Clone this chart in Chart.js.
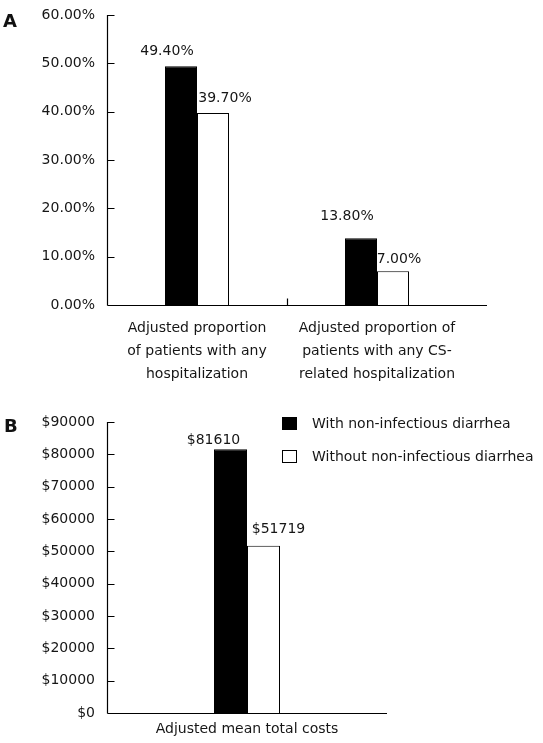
<!DOCTYPE html>
<html><head><meta charset="utf-8">
<script src="https://cdn.jsdelivr.net/npm/chart.js@4.4.0/dist/chart.umd.min.js"></script>
<style>
html,body{margin:0;padding:0;background:#fff;width:543px;height:743px;overflow:hidden}
.panel{position:absolute;left:0;width:543px}
canvas{display:block}
.tag{position:absolute;font:bold 18px "DejaVu Sans",sans-serif;color:#111;line-height:1}
</style></head><body>
<div class="panel" style="top:0;height:390px"><canvas id="cA" width="543" height="390"></canvas></div>
<div class="panel" style="top:390px;height:353px"><canvas id="cB" width="543" height="353"></canvas></div>
<div class="tag" style="left:3px;top:12px">A</div>
<div class="tag" style="left:4px;top:417px">B</div>
<script>
// ---- data ----
const seriesNames = ['With non-infectious diarrhea', 'Without non-infectious diarrhea'];
const categoriesA = [
  ['Adjusted proportion', 'of patients with any', 'hospitalization'],
  ['Adjusted proportion of', 'patients with any CS-', 'related hospitalization']
];
const withA = [49.4, 13.8];
const withoutA = [39.7, 7.0];
const ticksA = [0, 10, 20, 30, 40, 50, 60];

const categoriesB = ['Adjusted mean total costs'];
const withB = [81610];
const withoutB = [51719];
const ticksB = [0, 10000, 20000, 30000, 40000, 50000, 60000, 70000, 80000, 90000];

const FONT = '"DejaVu Sans", Verdana, sans-serif';
const TXT = '#161616';

// ---- plugins ----
const axesPlugin = {
  id: 'axesPlugin',
  afterDraw(chart, args, opts) {
    const { ctx, chartArea: a, scales: { x, y } } = chart;
    ctx.save();
    ctx.strokeStyle = '#000';
    ctx.lineWidth = 1.2;
    ctx.beginPath();
    const lx = Math.round(a.left) + 0.5, by = Math.round(a.bottom) + 0.5;
    ctx.moveTo(lx, a.top); ctx.lineTo(lx, by);
    ctx.moveTo(lx, by); ctx.lineTo(a.right + (opts.extend || 0), by);
    y.ticks.forEach(t => {
      const p = Math.round(y.getPixelForValue(t.value)) + 0.5;
      ctx.moveTo(lx, p); ctx.lineTo(lx + 7, p);
    });
    for (let i = 1; i < x.ticks.length; i++) {
      const p = Math.round((x.getPixelForValue(i - 1) + x.getPixelForValue(i)) / 2) + 0.5;
      ctx.moveTo(p, by); ctx.lineTo(p, by - 7);
    }
    ctx.stroke();
    ctx.restore();
  }
};

const valueLabels = {
  id: 'valueLabels',
  afterDatasetsDraw(chart, args, opts) {
    const ctx = chart.ctx;
    ctx.save();
    ctx.font = '14px ' + FONT;
    ctx.fillStyle = TXT;
    ctx.textAlign = 'center';
    ctx.textBaseline = 'middle';
    chart.data.datasets.forEach((ds, di) => {
      const meta = chart.getDatasetMeta(di);
      meta.data.forEach((bar, i) => {
        const off = opts.offsets[di][i];
        ctx.fillText(opts.format(ds.data[i]), bar.x + off[0], bar.y + off[1]);
      });
    });
    ctx.restore();
  }
};

const boxLegend = {
  id: 'boxLegend',
  afterDraw(chart, args, opts) {
    if (!opts || opts.x === undefined) return;
    const ctx = chart.ctx;
    ctx.save();
    ctx.font = '14px ' + FONT;
    ctx.textBaseline = 'middle';
    ctx.textAlign = 'left';
    chart.data.datasets.forEach((ds, i) => {
      const y = opts.y + i * opts.gap;
      ctx.fillStyle = ds.backgroundColor;
      ctx.fillRect(opts.x, y, 15, 13);
      ctx.strokeStyle = '#000'; ctx.lineWidth = 1;
      ctx.strokeRect(opts.x + 0.5, y + 0.5, 14, 12);
      ctx.fillStyle = TXT;
      ctx.fillText(ds.label, opts.x + 30, y + 7);
    });
    ctx.restore();
  }
};

function makeDatasets(a, b) {
  return [
    { label: seriesNames[0], data: a, backgroundColor: '#000000', borderColor: '#000000', borderWidth: 1 },
    { label: seriesNames[1], data: b, backgroundColor: '#ffffff', borderColor: '#000000', borderWidth: 1 }
  ];
}

function makeOptions(cfg) {
  return {
    responsive: false,
    animation: false,
    layout: { padding: cfg.padding },
    datasets: { bar: { barPercentage: 1, categoryPercentage: cfg.catPct } },
    plugins: {
      legend: { display: false },
      tooltip: { enabled: false },
      axesPlugin: { extend: cfg.extend || 0 },
      valueLabels: { offsets: cfg.offsets, format: cfg.format },
      boxLegend: cfg.legend || {}
    },
    scales: {
      x: {
        grid: { display: false, drawTicks: false },
        border: { display: false },
        ticks: {
          color: TXT, padding: cfg.xPad, maxRotation: 0, autoSkip: false,
          font: { family: FONT, size: 14, lineHeight: cfg.xLine }
        },
        afterFit(s) { s.height = cfg.xHeight; }
      },
      y: {
        min: cfg.yTicks[0], max: cfg.yTicks[cfg.yTicks.length - 1],
        grid: { display: false, drawTicks: false },
        border: { display: false },
        afterBuildTicks(s) { s.ticks = cfg.yTicks.map(v => ({ value: v })); },
        ticks: {
          color: TXT, padding: 12,
          font: { family: FONT, size: 14 },
          callback: cfg.yFmt
        },
        afterFit(s) { s.width = 107; s.paddingTop = 0; s.paddingBottom = 0; }
      }
    }
  };
}

new Chart(document.getElementById('cA'), {
  type: 'bar',
  data: { labels: categoriesA, datasets: makeDatasets(withA, withoutA) },
  options: makeOptions({
    padding: { left: 0, right: 76, top: 15, bottom: 0 },
    catPct: 64 / 180,
    extend: 20,
    xPad: 12, xLine: 1.65, xHeight: 85,
    yTicks: ticksA,
    yFmt: v => Number(v).toFixed(2) + '%',
    format: v => Number(v).toFixed(2) + '%',
    offsets: [[[-14, -15], [-14, -22]], [[12, -15], [6, -12]]]
  }),
  plugins: [axesPlugin, valueLabels, boxLegend]
});

new Chart(document.getElementById('cB'), {
  type: 'bar',
  data: { labels: categoriesB, datasets: makeDatasets(withB, withoutB) },
  options: makeOptions({
    padding: { left: 0, right: 156, top: 32, bottom: 0 },
    catPct: 66 / 280,
    extend: 0,
    xPad: 8, xLine: 1.2, xHeight: 30,
    yTicks: ticksB,
    yFmt: v => '$' + v,
    format: v => '$' + v,
    offsets: [[[-17, -9]], [[15, -16]]],
    legend: { x: 282, y: 27, gap: 33 }
  }),
  plugins: [axesPlugin, valueLabels, boxLegend]
});
</script>
</body></html>
